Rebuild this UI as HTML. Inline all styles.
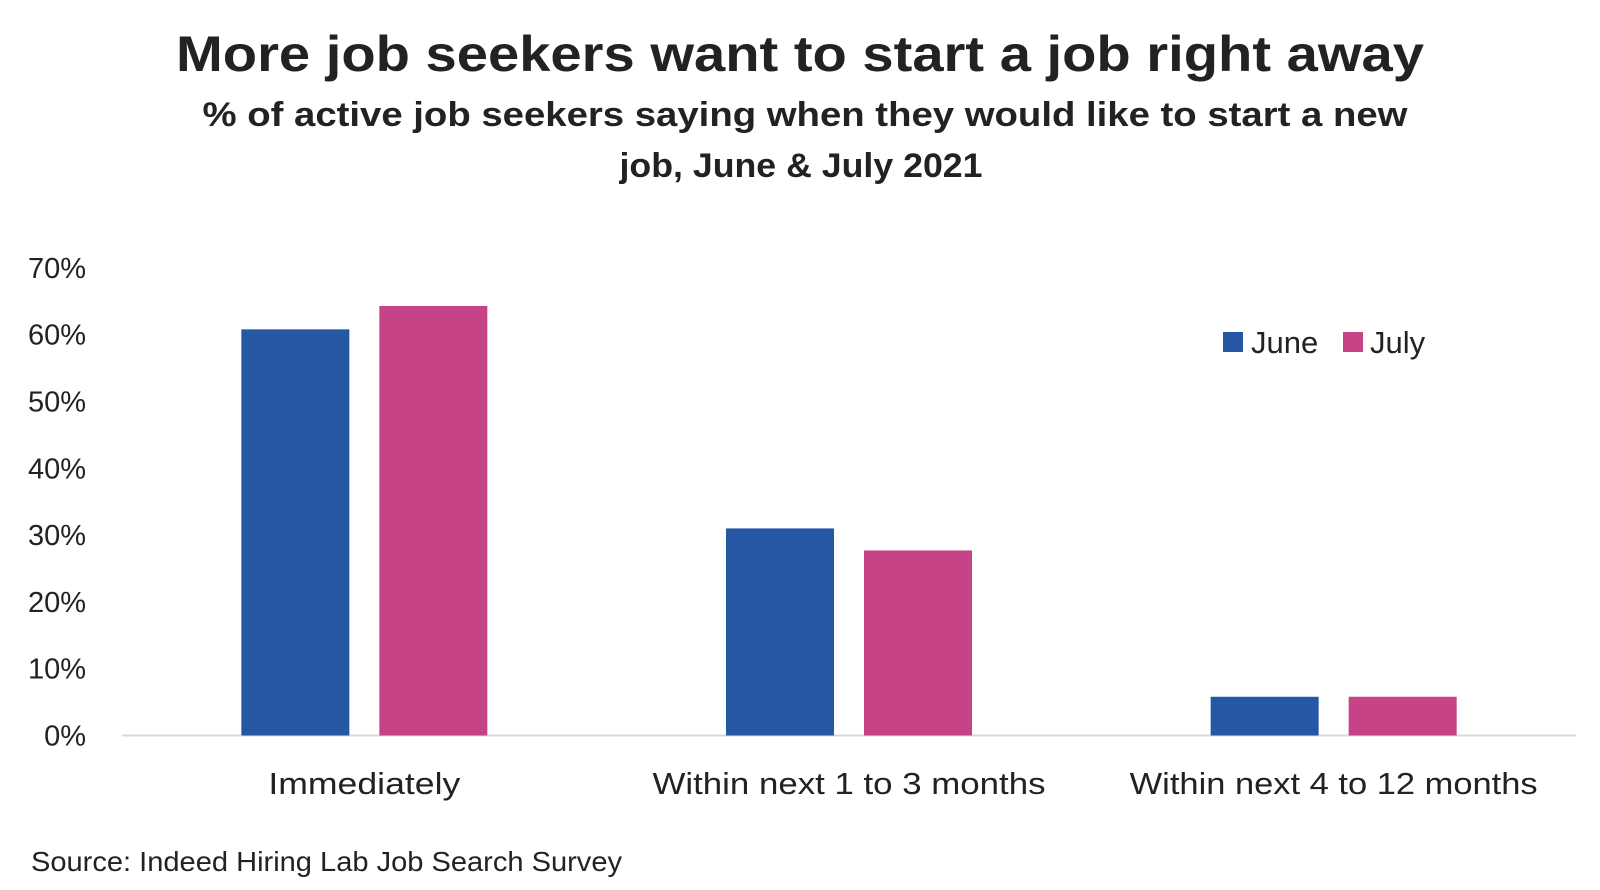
<!DOCTYPE html>
<html><head><meta charset="utf-8">
<style>
html,body{margin:0;padding:0;background:#fff;}
svg{display:block;font-family:"Liberation Sans","DejaVu Sans",sans-serif;}
</style></head>
<body>
<svg id="chart" width="1600" height="890" viewBox="0 0 1600 890" xmlns="http://www.w3.org/2000/svg">
<text x="800" y="71" text-anchor="middle" font-size="50" font-weight="bold" fill="#222" textLength="1248" lengthAdjust="spacingAndGlyphs">More job seekers want to start a job right away</text>
<text x="805" y="126" text-anchor="middle" font-size="34" font-weight="bold" fill="#222" textLength="1205" lengthAdjust="spacingAndGlyphs">% of active job seekers saying when they would like to start a new</text>
<text x="801" y="177" text-anchor="middle" font-size="34" font-weight="bold" fill="#222" textLength="363" lengthAdjust="spacingAndGlyphs">job, June &amp; July 2021</text>
<g id="yaxis"></g>
<g id="bars"></g>
<g id="xaxis"></g>
<g>
  <g>
    <rect x="1223" y="332" width="20" height="20" fill="#2557a5"/>
    <text x="1251" y="353" font-size="31" fill="#222">June</text>
  </g>
  <g>
    <rect x="1343" y="332" width="20" height="20" fill="#c64387"/>
    <text x="1370" y="353" font-size="31" fill="#222">July</text>
  </g>
</g>
<text x="31" y="871" font-size="28" fill="#222" textLength="591" lengthAdjust="spacingAndGlyphs">Source: Indeed Hiring Lab Job Search Survey</text>
</svg>
<script>
const categories = ["Immediately", "Within next 1 to 3 months", "Within next 4 to 12 months"];
const juneValues = [60.8, 31.0, 5.8];
const julyValues = [64.3, 27.7, 5.8];
const yTicks = [0, 10, 20, 30, 40, 50, 60, 70];
const yTickLabels = ["0%", "10%", "20%", "30%", "40%", "50%", "60%", "70%"];

const NS = "http://www.w3.org/2000/svg";
const plotLeft = 122, plotRight = 1576, baseY = 735.5, pxPer = 6.68;
const catW = (plotRight - plotLeft) / categories.length;
function yScale(v){ return baseY - v * pxPer; }
function xCat(i){ return plotLeft + catW * i; }
function mk(tag, attrs){ const e = document.createElementNS(NS, tag); for (const k in attrs) e.setAttribute(k, attrs[k]); return e; }

const yG = document.getElementById('yaxis');
yTicks.forEach((t, i) => {
  const tx = mk('text', {x: 86, y: yScale(t) + 10, 'text-anchor': 'end', 'font-size': 29, fill: '#222'});
  
  
  tx.textContent = yTickLabels[i];
  yG.appendChild(tx);
});
const axisLine = mk('line', {x1: plotLeft, x2: plotRight, y1: baseY, y2: baseY, stroke: '#d9d9d9', 'stroke-width': 2});


yG.appendChild(axisLine);

const bG = document.getElementById('bars');
const barW = 108, gap = 30;
const labelW = [192, 393, 408];
categories.forEach((c, i) => {
  const cx = xCat(i) + catW / 2;
  const jx = cx - gap / 2 - barW;
  const r1 = mk('rect', {x: jx, y: yScale(juneValues[i]), width: barW, height: baseY - yScale(juneValues[i]), fill: '#2557a5'});
  
  
  bG.appendChild(r1);
  const r2 = mk('rect', {x: cx + gap / 2, y: yScale(julyValues[i]), width: barW, height: baseY - yScale(julyValues[i]), fill: '#c64387'});
  
  
  bG.appendChild(r2);
  const tx = mk('text', {x: cx, y: 794, 'text-anchor': 'middle', 'font-size': 31, fill: '#222', textLength: labelW[i], lengthAdjust: 'spacingAndGlyphs'});
  
  
  tx.textContent = c;
  document.getElementById('xaxis').appendChild(tx);
});
</script>
</body></html>
